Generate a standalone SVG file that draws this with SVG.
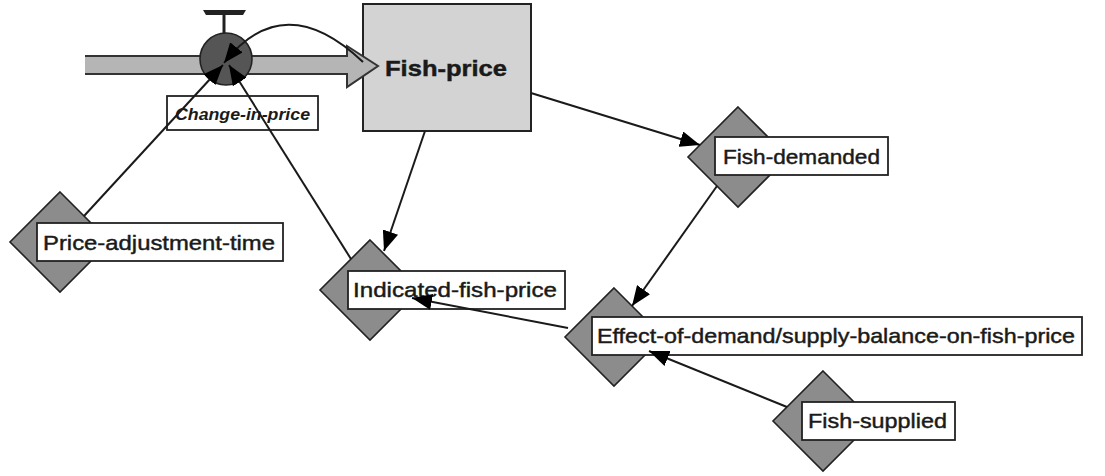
<svg xmlns="http://www.w3.org/2000/svg" width="1105" height="476" viewBox="0 0 1105 476">
<style>
.dia{fill:#8c8c8c;stroke:#222;stroke-width:1.6}
.lbl{fill:#fff;stroke:#222;stroke-width:1.8}
.t{font-family:"Liberation Sans",Arial,sans-serif;font-size:21px;fill:#1a1a1a;stroke:#1a1a1a;stroke-width:0.45}
.c{fill:none;stroke:#1a1a1a;stroke-width:2}
</style>
<defs>
<marker id="ah" markerWidth="20" markerHeight="16" refX="20" refY="8" orient="auto" markerUnits="userSpaceOnUse"><path d="M0,0 L20,8 L0,16 z" fill="#000"/></marker>
</defs>
<rect width="1105" height="476" fill="#fff"/>

<g id="fish-price">
<rect x="363" y="4" width="168" height="127" fill="#d3d3d3" stroke="#222" stroke-width="2"/>
<text x="385" y="76" class="t" style="font-weight:bold;font-size:22px" textLength="122" lengthAdjust="spacingAndGlyphs">Fish-price</text>
</g>

<g id="change-in-price">
<path d="M85,56 H347 V46 L378,66 L347,87 V74 H85" fill="#b5b5b5" stroke="#333" stroke-width="2"/>
<line x1="224" y1="13" x2="224" y2="34" stroke="#222" stroke-width="3"/>
<path d="M203,10 H246 L243,15 H206 Z" fill="#222"/>
<circle cx="226" cy="59" r="26" fill="#555" stroke="#222" stroke-width="1.6"/>
<rect x="167" y="96" width="151" height="34" class="lbl"/>
<text x="175" y="120" class="t" style="font-size:16px;font-style:italic;font-weight:bold;stroke-width:0" textLength="135" lengthAdjust="spacingAndGlyphs">Change-in-price</text>
</g>

<g id="price-adjustment-time">
<path d="M60,192 L110,242 L60,292 L10,242 Z" class="dia"/>
<rect x="37" y="223" width="246" height="38" class="lbl"/>
<text x="43" y="250" class="t" textLength="232" lengthAdjust="spacingAndGlyphs">Price-adjustment-time</text>
</g>

<g id="indicated-fish-price">
<path d="M370,240 L420,290 L370,340 L320,290 Z" class="dia"/>
<rect x="348" y="271" width="217" height="38" class="lbl"/>
<text x="353" y="297" class="t" textLength="204" lengthAdjust="spacingAndGlyphs">Indicated-fish-price</text>
</g>

<g id="fish-demanded">
<path d="M738,107 L788,157 L738,207 L688,157 Z" class="dia"/>
<rect x="715" y="137" width="173" height="38" class="lbl"/>
<text x="723" y="164" class="t" textLength="157" lengthAdjust="spacingAndGlyphs">Fish-demanded</text>
</g>

<g id="effect-of-demand-supply-balance-on-fish-price">
<path d="M614,288 L663,337 L614,386 L565,337 Z" class="dia"/>
<rect x="592" y="317" width="490" height="38" class="lbl"/>
<text x="597" y="343" class="t" textLength="478" lengthAdjust="spacingAndGlyphs">Effect-of-demand/supply-balance-on-fish-price</text>
</g>

<g id="fish-supplied">
<path d="M823,371 L873,421 L823,471 L773,421 Z" class="dia"/>
<rect x="802" y="402" width="153" height="38" class="lbl"/>
<text x="808" y="428" class="t" textLength="139" lengthAdjust="spacingAndGlyphs">Fish-supplied</text>
</g>

<g id="connectors">
<path d="M363,62 Q284,-13 224,63" class="c" marker-end="url(#ah)"/>
<line x1="84" y1="216" x2="223" y2="65" class="c" marker-end="url(#ah)"/>
<line x1="351" y1="259" x2="229" y2="65" class="c" marker-end="url(#ah)"/>
<line x1="531" y1="93" x2="700" y2="145" class="c" marker-end="url(#ah)"/>
<line x1="425" y1="131" x2="384" y2="251" class="c" marker-end="url(#ah)"/>
<line x1="717" y1="186" x2="632" y2="306" class="c" marker-end="url(#ah)"/>
<line x1="787" y1="407" x2="649" y2="351" class="c" marker-end="url(#ah)"/>
<line x1="568" y1="328" x2="412" y2="298" class="c" marker-end="url(#ah)"/>
</g>
</svg>
